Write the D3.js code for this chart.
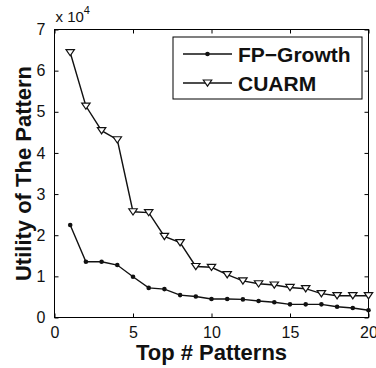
<!DOCTYPE html>
<html>
<head>
<meta charset="utf-8">
<script src="https://cdn.jsdelivr.net/npm/d3@7"></script>
<style>
  body { margin: 0; background: #fff; }
  svg { display: block; font-family: "Liberation Sans", Arial, sans-serif; }
</style>
</head>
<body>
<div class="chart"></div>
<script>
// data
var topN = [1, 2, 3, 4, 5, 6, 7, 8, 9, 10, 11, 12, 13, 14, 15, 16, 17, 18, 19, 20];
var fpGrowth = [22500, 13550, 13550, 12750, 9900, 7200, 6900, 5450, 5100, 4500,
                4500, 4400, 4000, 3700, 3200, 3200, 3200, 2600, 2300, 1750];
var cuarm = [64400, 51400, 45400, 43200, 25700, 25500, 19700, 18200, 12400, 12200,
             10400, 8900, 8200, 7900, 7300, 7000, 5800, 5300, 5300, 5300];
var xTicks = [0, 5, 10, 15, 20];
var yTicks = [0, 10000, 20000, 30000, 40000, 50000, 60000, 70000];
var seriesNames = ["FP\u2212Growth", "CUARM"];

var svgWidth = 376;
var svgHeight = 368;

var margin = { top: 29.5, right: 7.5, bottom: 50.5, left: 54.5 };
var width = svgWidth - margin.left - margin.right;
var height = svgHeight - margin.top - margin.bottom;

var svg = d3.select(".chart")
  .append("svg")
  .attr("width", svgWidth)
  .attr("height", svgHeight);

var chartGroup = svg.append("g")
  .attr("transform", `translate(${margin.left}, ${margin.top})`);

// scales
var xScale = d3.scaleLinear().domain([0, 20]).range([0, width]);
var yScale = d3.scaleLinear().domain([0, 70000]).range([height, 0]);

// axes, ticks pointing inward like matlab
var tickLen = 4;
var bottomAxis = d3.axisBottom(xScale).tickValues(xTicks).tickSizeInner(-tickLen).tickSizeOuter(0).tickPadding(9);
var topAxis = d3.axisTop(xScale).tickValues(xTicks).tickSizeInner(-tickLen).tickSizeOuter(0).tickFormat("");
var leftAxis = d3.axisLeft(yScale).tickValues(yTicks).tickSizeInner(-tickLen).tickSizeOuter(0).tickPadding(9)
  .tickFormat(d => d / 10000);
var rightAxis = d3.axisRight(yScale).tickValues(yTicks).tickSizeInner(-tickLen).tickSizeOuter(0).tickFormat("");

function styleAxis(g) {
  g.select(".domain").remove();
  g.selectAll("line").attr("stroke", "#000");
  g.selectAll("text").attr("fill", "#111").style("font-size", "16px");
}

chartGroup.append("g").attr("transform", `translate(0, ${height})`).call(bottomAxis).call(styleAxis);
chartGroup.append("g").call(topAxis).call(styleAxis);
chartGroup.append("g").call(leftAxis).call(styleAxis);
chartGroup.append("g").attr("transform", `translate(${width}, 0)`).call(rightAxis).call(styleAxis);

// box round the plot
chartGroup.append("rect")
  .attr("width", width)
  .attr("height", height)
  .attr("fill", "none")
  .attr("stroke", "#000")
  .attr("stroke-width", 1);

// exponent label
var expLabel = chartGroup.append("text")
  .attr("x", 1)
  .attr("y", -8)
  .attr("fill", "#111")
  .style("font-size", "15px");
expLabel.append("tspan").text("x 10");
expLabel.append("tspan").attr("dy", -8).style("font-size", "11px").text("4");

// line generator
var line = d3.line()
  .x((d, i) => xScale(topN[i]))
  .y(d => yScale(d));

chartGroup.append("path")
  .datum(fpGrowth)
  .attr("d", line)
  .attr("fill", "none")
  .attr("stroke", "#111")
  .attr("stroke-width", 1.4);

chartGroup.append("path")
  .datum(cuarm)
  .attr("d", line)
  .attr("fill", "none")
  .attr("stroke", "#111")
  .attr("stroke-width", 1.4);

// triangle pointing down
function downTriangle(cx, cy) {
  return `M${cx - 4.2},${cy - 3} L${cx + 4.2},${cy - 3} L${cx},${cy + 3.2} Z`;
}

chartGroup.selectAll(".fp-dot")
  .data(fpGrowth)
  .enter()
  .append("circle")
  .attr("class", "fp-dot")
  .attr("cx", (d, i) => xScale(topN[i]))
  .attr("cy", d => yScale(d))
  .attr("r", 2.3)
  .attr("fill", "#111");

chartGroup.selectAll(".cu-tri")
  .data(cuarm)
  .enter()
  .append("path")
  .attr("class", "cu-tri")
  .attr("d", (d, i) => downTriangle(xScale(topN[i]), yScale(d)))
  .attr("fill", "#fff")
  .attr("stroke", "#111")
  .attr("stroke-width", 1.2);

// axis labels
svg.append("text")
  .attr("x", margin.left + width / 2)
  .attr("y", 360)
  .attr("text-anchor", "middle")
  .attr("fill", "#111")
  .style("font-size", "22px")
  .style("font-weight", "bold")
  .text("Top # Patterns");

svg.append("text")
  .attr("transform", `translate(31, ${margin.top + height / 2 + 0}) rotate(-90)`)
  .attr("text-anchor", "middle")
  .attr("fill", "#111")
  .style("font-size", "22px")
  .style("font-weight", "bold")
  .text("Utility of The Pattern");

// legend
var legend = svg.append("g").attr("transform", "translate(173, 37)");
legend.append("rect")
  .attr("width", 189)
  .attr("height", 62)
  .attr("fill", "#fff")
  .attr("stroke", "#000")
  .attr("stroke-width", 1);

var rows = legend.selectAll(".row")
  .data(seriesNames)
  .enter()
  .append("g")
  .attr("class", "row")
  .attr("transform", (d, i) => `translate(0, ${17 + i * 29})`);

rows.append("line")
  .attr("x1", 10).attr("x2", 59)
  .attr("stroke", "#111")
  .attr("stroke-width", 1.4);

rows.filter((d, i) => i === 0).append("circle")
  .attr("cx", 34.5).attr("r", 2.3).attr("fill", "#111");

rows.filter((d, i) => i === 1).append("path")
  .attr("d", downTriangle(34.5, 0))
  .attr("fill", "#fff")
  .attr("stroke", "#111")
  .attr("stroke-width", 1.2);

rows.append("text")
  .attr("x", 65)
  .attr("y", 7.5)
  .attr("fill", "#111")
  .style("font-size", "21px")
  .style("font-weight", "bold")
  .text(d => d);
</script>
</body>
</html>
